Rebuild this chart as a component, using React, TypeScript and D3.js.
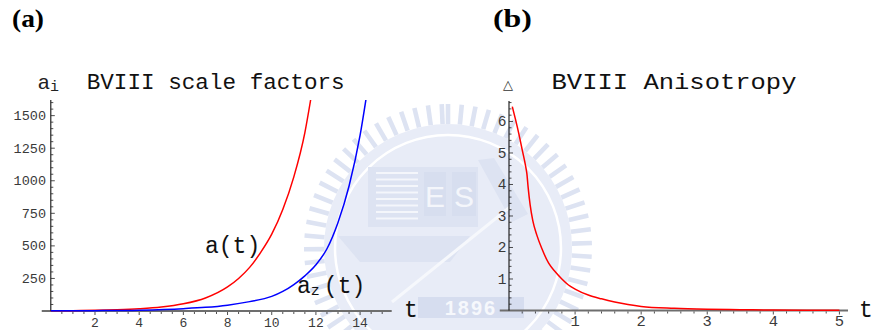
import React from "react";
import * as d3 from "d3";

// Panel (a): scale factors a(t) and a_z(t)
const scaleT = [0, 1, 2, 3, 4, 5, 6, 7, 8, 8.5, 9, 9.5, 10, 10.5, 11, 11.5, 11.76];
const scaleA = [1, 2.5, 5, 9.5, 17, 30, 55, 100, 185, 250, 335, 450, 590, 780, 1030, 1370, 1620];
const scaleTz = [0, 2, 4, 6, 7, 8, 9, 10, 10.5, 11, 11.5, 12, 12.5, 13, 13.5, 14, 14.26];
const scaleAz = [1, 2.7, 6.7, 18, 28, 45, 72, 112, 150, 203, 270, 355, 478, 680, 960, 1350, 1620];

// Panel (b): anisotropy Δ(t)
const anisoT = [0.05, 0.1, 0.15, 0.2, 0.25, 0.27, 0.29, 0.32, 0.36, 0.42, 0.5, 0.6, 0.7, 0.8, 0.9, 1.0, 1.2, 1.4, 1.6, 1.8, 2.0, 2.5, 3.0, 3.5, 4.0, 4.5, 5.0];
const anisoD = [6.47, 6.05, 5.6, 5.1, 4.6, 4.35, 3.9, 3.35, 2.85, 2.4, 1.95, 1.5, 1.23, 1.0, 0.81, 0.68, 0.49, 0.37, 0.27, 0.19, 0.13, 0.07, 0.04, 0.025, 0.015, 0.01, 0.006];

const leftXTicks = [2, 4, 6, 8, 10, 12, 14];
const leftYTicks = [250, 500, 750, 1000, 1250, 1500];
const rightXTicks = [1, 2, 3, 4, 5];
const rightYTicks = [1, 2, 3, 4, 5, 6];

const MONO = "'Liberation Mono', 'DejaVu Sans Mono', monospace";
const SERIF = "'Liberation Serif', 'DejaVu Serif', serif";

function Emblem() {
  const cx = 448;
  const cy = 248;
  const teeth = d3.range(0, 360, 5.5);
  const wm = "#e8ecf7";
  const wmDark = "#dde3f2";
  return (
    <g>
      <circle cx={cx} cy={cy} r={124} fill={wm} />
      {teeth.map((a) => (
        <rect
          key={a}
          x={-2.3}
          y={-144}
          width={4.6}
          height={20}
          fill={wmDark}
          transform={`translate(${cx},${cy}) rotate(${a})`}
        />
      ))}
      <circle cx={cx} cy={cy} r={113} fill="none" stroke="#ffffff" strokeWidth={2.5} />
      {/* building block */}
      <rect x={368} y={167} width={110} height={60} fill={wmDark} />
      {d3.range(0, 8).map((i) => (
        <rect key={i} x={376} y={172 + i * 6.5} width={42} height={2} fill="#f4f6fb" />
      ))}
      <rect x={424} y={172} width={22} height={44} fill="#d7deef" />
      <rect x={452} y={172} width={24} height={44} fill="#d7deef" />
      <text x={435} y={207} fontFamily="'Liberation Sans', sans-serif" fontSize={30} fill="#f4f6fb" textAnchor="middle">E</text>
      <text x={464} y={207} fontFamily="'Liberation Sans', sans-serif" fontSize={30} fill="#f4f6fb" textAnchor="middle">S</text>
      {/* hull and diagonal bands */}
      <path d="M338,236 L470,236 L450,262 L360,262 Z" fill={wmDark} />
      <path d="M478,160 L494,158 L528,214 L512,222 Z" fill={wmDark} />
      <line x1={392} y1={302} x2={510} y2={207} stroke="#f6f8fc" strokeWidth={3} />
      {/* year banner */}
      <rect x={418} y={297} width={106} height={21} fill="#d6ddef" />
      <text x={471} y={315} fontFamily="'Liberation Sans', sans-serif" fontWeight="bold" fontSize={20} fill="#f6f8fc" textAnchor="middle" letterSpacing={2}>1896</text>
    </g>
  );
}

export default function App() {
  // Panel (a) scales
  const xL = d3.scaleLinear().domain([0, 15.43]).range([50.8, 391.7]);
  const yL = d3.scaleLinear().domain([0, 1620]).range([311, 100]);
  // Panel (b) scales
  const xR = d3.scaleLinear().domain([0, 5.13]).range([509, 848]);
  const yR = d3.scaleLinear().domain([0, 6.65]).range([310.5, 101]);

  const lineL = d3
    .line<[number, number]>()
    .x((d) => xL(d[0]))
    .y((d) => yL(d[1]))
    .curve(d3.curveMonotoneX);
  const lineR = d3
    .line<[number, number]>()
    .x((d) => xR(d[0]))
    .y((d) => yR(d[1]))
    .curve(d3.curveMonotoneX);

  const aPts = scaleT.map((t, i) => [t, scaleA[i]] as [number, number]);
  const azPts = scaleTz.map((t, i) => [t, scaleAz[i]] as [number, number]);
  const dPts = anisoT.map((t, i) => [t, anisoD[i]] as [number, number]);

  const xMinorL = d3.range(0.5, 15.01, 0.5);
  const yMinorL = d3.range(50, 1601, 50);
  const xMinorR = d3.range(0.2, 5.11, 0.2);
  const yMinorR = d3.range(0.2, 6.61, 0.2);

  const tickColor = "#222";
  const labelColor = "#3a3a3a";

  return (
    <svg
      width={873}
      height={330}
      viewBox="0 0 873 330"
      style={{ position: "absolute", left: 0, top: 0, background: "#fff" }}
    >
      <rect x={0} y={0} width={873} height={330} fill="#fff" />
      <Emblem />

      {/* panel labels */}
      <text x={12} y={27} fontFamily={SERIF} fontWeight="bold" fontSize={25} textLength={32} lengthAdjust="spacingAndGlyphs">(a)</text>
      <text x={493} y={27} fontFamily={SERIF} fontWeight="bold" fontSize={25} textLength={39} lengthAdjust="spacingAndGlyphs">(b)</text>

      {/* ---------- panel (a) ---------- */}
      <text x={37.5} y={89.3} fontFamily={MONO} fontSize={21} fill="#222">a</text>
      <text x={50} y={90.5} fontFamily={MONO} fontSize={15} fill="#222">i</text>
      <text x={86.7} y={89.3} fontFamily={MONO} fontSize={22} fill="#111" textLength={258} lengthAdjust="spacingAndGlyphs">BVIII scale factors</text>

      {/* x axis */}
      <line x1={xL(-0.41)} x2={xL(15.43)} y1={yL(0)} y2={yL(0)} stroke="#6e6e6e" strokeWidth={2} />
      {xMinorL.map((t) => (
        <line key={t} x1={xL(t)} x2={xL(t)} y1={yL(0) + 1} y2={yL(0) + (Number.isInteger(t / 2) ? 4 : 3)} stroke={tickColor} strokeWidth={0.8} />
      ))}
      {leftXTicks.map((t) => (
        <text key={t} x={xL(t)} y={327} fontFamily={MONO} fontSize={13} fill={labelColor} textAnchor="middle">{t}</text>
      ))}
      {/* y axis */}
      <line x1={xL(0)} x2={xL(0)} y1={yL(1620)} y2={yL(0)} stroke="#111" strokeWidth={1.1} />
      {yMinorL.map((v) => (
        <line key={v} x1={xL(0)} x2={xL(0) + (v % 250 === 0 ? 4 : 2.5)} y1={yL(v)} y2={yL(v)} stroke={tickColor} strokeWidth={0.8} />
      ))}
      {leftYTicks.map((v) => (
        <text key={v} x={46} y={yL(v) + 4.6} fontFamily={MONO} fontSize={13.5} fill={labelColor} textAnchor="end">{v}</text>
      ))}

      <path d={lineL(aPts) || ""} fill="none" stroke="#ff0000" strokeWidth={1.5} />
      <path d={lineL(azPts) || ""} fill="none" stroke="#0000ff" strokeWidth={1.5} />

      <text x={205} y={253} fontFamily={MONO} fontSize={23} fill="#111">a(t)</text>
      <text x={297} y={293} fontFamily={MONO} fontSize={23} fill="#111">
        a
        <tspan fontSize={15} dy={2}>z</tspan>
        <tspan fontSize={23} dy={-2} dx={4}>(t)</tspan>
      </text>
      <text x={404} y={317} fontFamily={MONO} fontSize={23} fill="#111">t</text>

      {/* ---------- panel (b) ---------- */}
      <text x={503} y={88.5} fontFamily="'DejaVu Sans', sans-serif" fontSize={13} fill="#333">△</text>
      <text x={551.5} y={89.3} fontFamily={MONO} fontSize={22} fill="#111" textLength={245} lengthAdjust="spacingAndGlyphs">BVIII Anisotropy</text>

      <line x1={xR(-0.14)} x2={xR(5.13)} y1={yR(0)} y2={yR(0)} stroke="#6e6e6e" strokeWidth={2} />
      {xMinorR.map((t) => (
        <line key={t} x1={xR(t)} x2={xR(t)} y1={yR(0) + 1} y2={yR(0) + (Math.abs(t - Math.round(t)) < 1e-6 ? 4 : 3)} stroke={tickColor} strokeWidth={0.8} />
      ))}
      {rightXTicks.map((t) => (
        <text key={t} x={xR(t)} y={326} fontFamily={MONO} fontSize={15.5} fill={labelColor} textAnchor="middle">{t}</text>
      ))}
      <line x1={xR(0)} x2={xR(0)} y1={yR(6.65)} y2={yR(0)} stroke="#111" strokeWidth={1.1} />
      {yMinorR.map((v) => (
        <line key={v} x1={xR(0)} x2={xR(0) + (Math.abs(v - Math.round(v)) < 1e-6 ? 4 : 2.5)} y1={yR(v)} y2={yR(v)} stroke={tickColor} strokeWidth={0.8} />
      ))}
      {rightYTicks.map((v) => (
        <text key={v} x={506.5} y={yR(v) + 5} fontFamily={MONO} fontSize={14.5} fill={labelColor} textAnchor="end">{v}</text>
      ))}

      <path d={lineR(dPts) || ""} fill="none" stroke="#ff0000" strokeWidth={1.5} />
      <text x={859} y={317} fontFamily={MONO} fontSize={23} fill="#111">t</text>
    </svg>
  );
}
